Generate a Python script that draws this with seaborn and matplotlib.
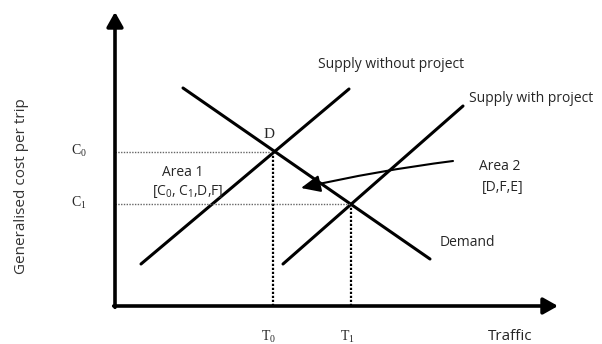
import numpy as np
import pandas as pd
import seaborn as sns
import matplotlib.pyplot as plt

# diagram values (traffic on x, generalised cost on y)
supply_without_x = [26, 234]
supply_without_y = [42, 217]
supply_with_x = [168, 348]
supply_with_y = [42, 200]
demand_x = [68, 315]
demand_y = [218, 47]

traffic_levels = [158, 236]   # T0, T1
cost_levels = [154, 102]      # C0, C1
traffic_labels = [r"$\mathregular{T_0}$", r"$\mathregular{T_1}$"]
cost_labels = [r"$\mathregular{C_0}$", r"$\mathregular{C_1}$"]

x_axis_end = 443
y_axis_end = 294

sns.set_theme(style="white")
plt.rcParams["font.family"] = ["Open Sans", "DejaVu Sans"]

fig = plt.figure(figsize=(6.02, 3.44), dpi=100)
ax = fig.add_axes([0, 0, 1, 1])
ax.set_xlim(-115, 487)
ax.set_ylim(-38, 306)
ax.axis("off")

lines = pd.concat([
    pd.DataFrame({"traffic": supply_without_x, "cost": supply_without_y, "curve": "without"}),
    pd.DataFrame({"traffic": supply_with_x, "cost": supply_with_y, "curve": "with"}),
    pd.DataFrame({"traffic": demand_x, "cost": demand_y, "curve": "demand"}),
])
sns.lineplot(data=lines, x="traffic", y="cost", units="curve", estimator=None,
             color="black", lw=2.2, legend=False, ax=ax)

# axes with arrow heads
arrow = dict(arrowstyle="-|>,head_length=0.8,head_width=0.45", color="black",
             lw=2.6, shrinkA=0, shrinkB=0, mutation_scale=11)
ax.annotate("", xy=(0, y_axis_end), xytext=(0, -1.3), arrowprops=arrow)
ax.annotate("", xy=(x_axis_end, 0), xytext=(-1.3, 0), arrowprops=arrow)

# dotted guide lines
for t, c in zip(traffic_levels, cost_levels):
    ax.plot([0, t], [c, c], color="#666666", lw=1.0, ls=(0, (1, 1)))
    ax.plot([t, t], [0, c], color="black", lw=1.6, ls=(0, (1, 0.8)))

serif = ["Liberation Serif", "DejaVu Serif"]
for t, lab in zip(traffic_levels, traffic_labels):
    ax.text(t - 4, -31, lab, ha="center", va="center", fontsize=10, family=serif)
for c, lab in zip(cost_levels, cost_labels):
    ax.text(-36, c + 1, lab, ha="center", va="center", fontsize=10, family=serif)

ax.text(395, -31, "Traffic", ha="center", va="center", fontsize=11)
ax.text(-93, 120, "Generalised cost per trip", ha="center", va="center",
        rotation=90, fontsize=11, color="#333333")

ax.text(276, 242, "Supply without project", ha="center", va="center", fontsize=10)
ax.text(416, 208, "Supply with project", ha="center", va="center", fontsize=10)
ax.text(352, 64, "Demand", ha="center", va="center", fontsize=10)
ax.text(385, 140, "Area 2", ha="center", va="center", fontsize=10)
ax.text(388, 119, "[D,F,E]", ha="center", va="center", fontsize=10)
ax.text(68, 134, "Area 1", ha="center", va="center", fontsize=10)
ax.text(73, 114, r"[$\mathregular{C_0}$, $\mathregular{C_1}$,D,F]",
        ha="center", va="center", fontsize=10)
ax.text(154, 172, "D", ha="center", va="center", fontsize=11, family=serif)

ax.annotate("", xy=(186, 118), xytext=(338, 145),
            arrowprops=dict(arrowstyle="-|>,head_length=0.9,head_width=0.4",
                            color="black", lw=1.5, shrinkA=0, shrinkB=0,
                            mutation_scale=13, connectionstyle="arc3,rad=0.025"))

fig.savefig("out.png", dpi=100, facecolor="white")
